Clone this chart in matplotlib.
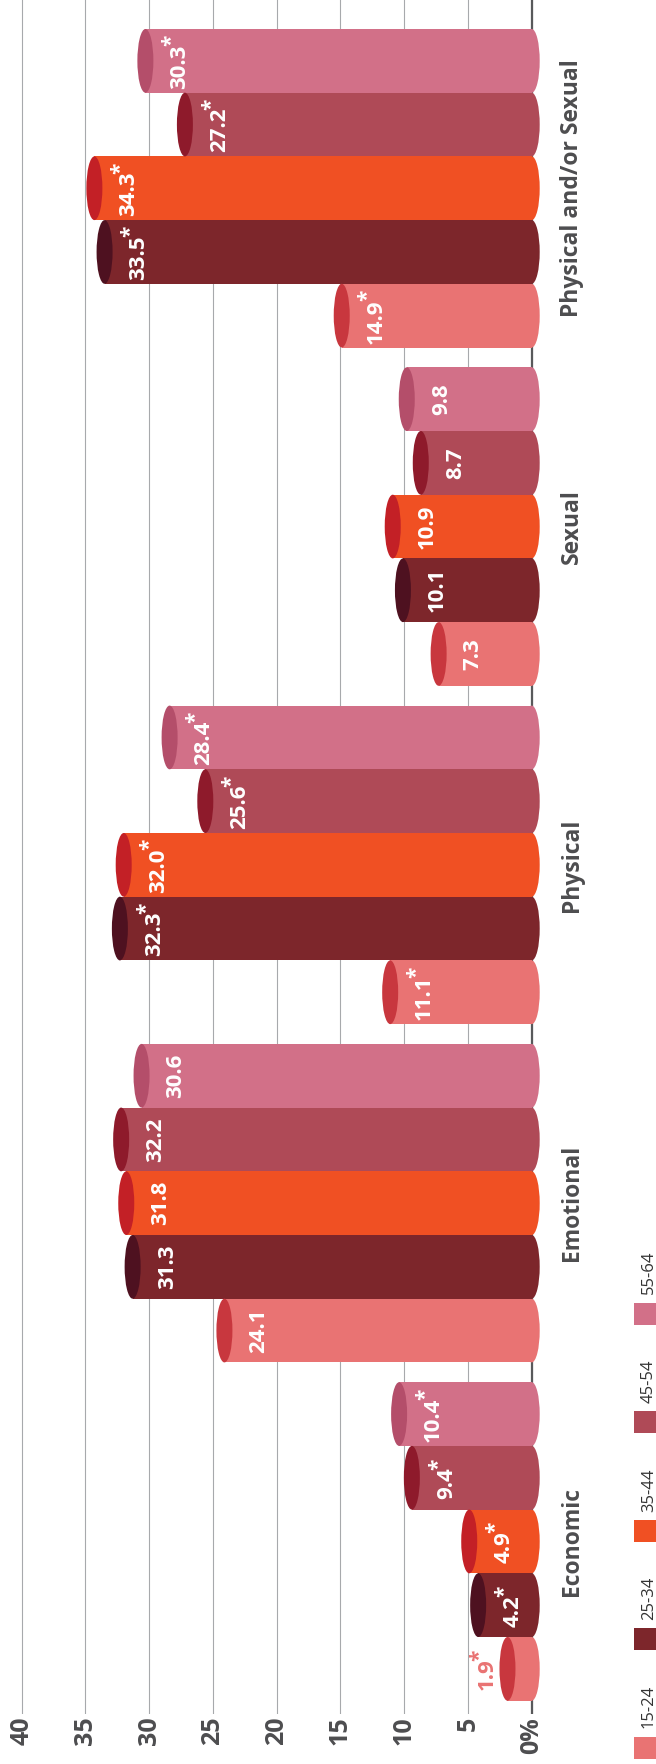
import matplotlib
matplotlib.use("Agg")
import matplotlib.pyplot as plt
from matplotlib.patches import Ellipse, Rectangle

plt.rcParams['font.family'] = ['Open Sans', 'DejaVu Sans']

# ---- data -------------------------------------------------------------
categories = ["Economic", "Emotional", "Physical", "Sexual", "Physical and/or Sexual"]
age_groups = ["15-24", "25-34", "35-44", "45-54", "55-64"]

values_15_24 = [1.9, 24.1, 11.1, 7.3, 14.9]
values_25_34 = [4.2, 31.3, 32.3, 10.1, 33.5]
values_35_44 = [4.9, 31.8, 32.0, 10.9, 34.3]
values_45_54 = [9.4, 32.2, 25.6, 8.7, 27.2]
values_55_64 = [10.4, 30.6, 28.4, 9.8, 30.3]
series = [values_15_24, values_25_34, values_35_44, values_45_54, values_55_64]

# categories whose age differences are marked with an asterisk
significant = [True, False, True, False, True]

tick_values = [40, 35, 30, 25, 20, 15, 10, 5, 0]
tick_labels = ["40", "35", "30", "25", "20", "15", "10", "5", "0%"]

# ---- styling ----------------------------------------------------------
body_colors = ["#e97373", "#7d262b", "#f05023", "#af4a57", "#d27088"]
cap_colors = ["#c8373e", "#4e1120", "#c32026", "#8e1a2b", "#b44e6a"]
text_grey = "#4d4d4f"

W, H, DPI = 656, 1764, 100
PT = 72.0 / DPI                      # points per pixel

fig = plt.figure(figsize=(W / DPI, H / DPI), dpi=DPI)

zero_px = 531.7                       # pixel column of the value 0
px_per_unit = 12.75                   # pixels per percentage point
ax_left, ax_right, ax_bottom = 8, 548, 1714
bar_px = 63.7                         # thickness of one cylinder
ax = fig.add_axes([ax_left / W, (H - ax_bottom) / H,
                   (ax_right - ax_left) / W, ax_bottom / H])
ax.set_xlim((zero_px - ax_left) / px_per_unit, (zero_px - ax_right) / px_per_unit)
ax.set_ylim(0, ax_bottom / bar_px)

base = 13.3 / bar_px
gap = 19.8 / bar_px
cap_w = 16 / px_per_unit

for s in ax.spines.values():
    s.set_visible(False)
ax.set_yticks([])
ax.set_xticks(tick_values)
ax.set_xticklabels(tick_labels, rotation=90, fontsize=18, fontweight="bold",
                   color=text_grey)
ax.tick_params(axis="x", length=0, pad=2)
ax.grid(axis="x", color="#a7a9ac", lw=0.8, zorder=0)
ax.set_axisbelow(True)
ax.axvline(0, color="#58595b", lw=1.6, zorder=1)

star_jobs = []
n_cat = len(categories)
for si, vals in enumerate(series):
    ycs = [base + gi * (5 + gap) + si + 0.5 for gi in range(n_cat)]
    ax.barh(ycs, vals, height=1.0, left=0, color=body_colors[si],
            linewidth=0, zorder=3)
    for gi, (v, yc) in enumerate(zip(vals, ycs)):
        # rounded base of the cylinder on the zero line
        ax.add_patch(Ellipse((0, yc), cap_w, 1.0, color=body_colors[si],
                             lw=0, zorder=2.9, clip_on=False))
        # darker top face of the cylinder
        ax.add_patch(Ellipse((v, yc), cap_w, 1.0, color=cap_colors[si],
                             lw=0, zorder=4, clip_on=False))
        star = significant[gi]
        if v < 3:
            dx, color = -14.5, body_colors[si]
        else:
            dx, color = 40, "white"
        dy = -5.7 if star else 0
        t = ax.annotate(f"{v:.1f}", xy=(v, yc), xytext=(dx * PT, dy * PT),
                        textcoords="offset points", rotation=90,
                        rotation_mode="anchor", ha="center", va="baseline",
                        fontsize=16, fontweight="bold", color=color, zorder=5,
                        annotation_clip=False)
        if star:
            star_jobs.append((t, v, yc, dx, color))

for gi, cat in enumerate(categories):
    yc = base + gi * (5 + gap) + 2.5
    ax.annotate(cat, xy=(0, yc), xytext=(46.3 * PT, 0), textcoords="offset points",
                rotation=90, rotation_mode="anchor", ha="center", va="baseline",
                fontsize=16.5, fontweight="bold", color=text_grey,
                annotation_clip=False)

# asterisks sit as raised superscripts right after the numbers
fig.canvas.draw()
renderer = fig.canvas.get_renderer()
for t, v, yc, dx, color in star_jobs:
    bb = t.get_window_extent(renderer)
    anchor_y = ax.transData.transform((v, yc))[1]
    dy_star = bb.y1 - anchor_y - 2
    ax.annotate("*", xy=(v, yc), xytext=((dx - 8) * PT, dy_star * PT),
                textcoords="offset points", rotation=90, rotation_mode="anchor",
                ha="left", va="baseline", fontsize=15, fontweight="bold",
                color=color, zorder=5, annotation_clip=False)

# legend: squares with rotated labels along the right edge
for si, age in enumerate(age_groups):
    cy = 1747.5 - si * 108.5
    fig.add_artist(Rectangle((633.5 / DPI, (H - (cy + 11)) / DPI), 0.22, 0.22,
                             transform=fig.dpi_scale_trans,
                             color=body_colors[si], lw=0))
    fig.text(653 / DPI, (H - (cy - 19)) / DPI, age, transform=fig.dpi_scale_trans,
             rotation=90, rotation_mode="anchor", ha="left", va="baseline",
             fontsize=12, color="#333333")

fig.savefig("out.png", dpi=DPI)
